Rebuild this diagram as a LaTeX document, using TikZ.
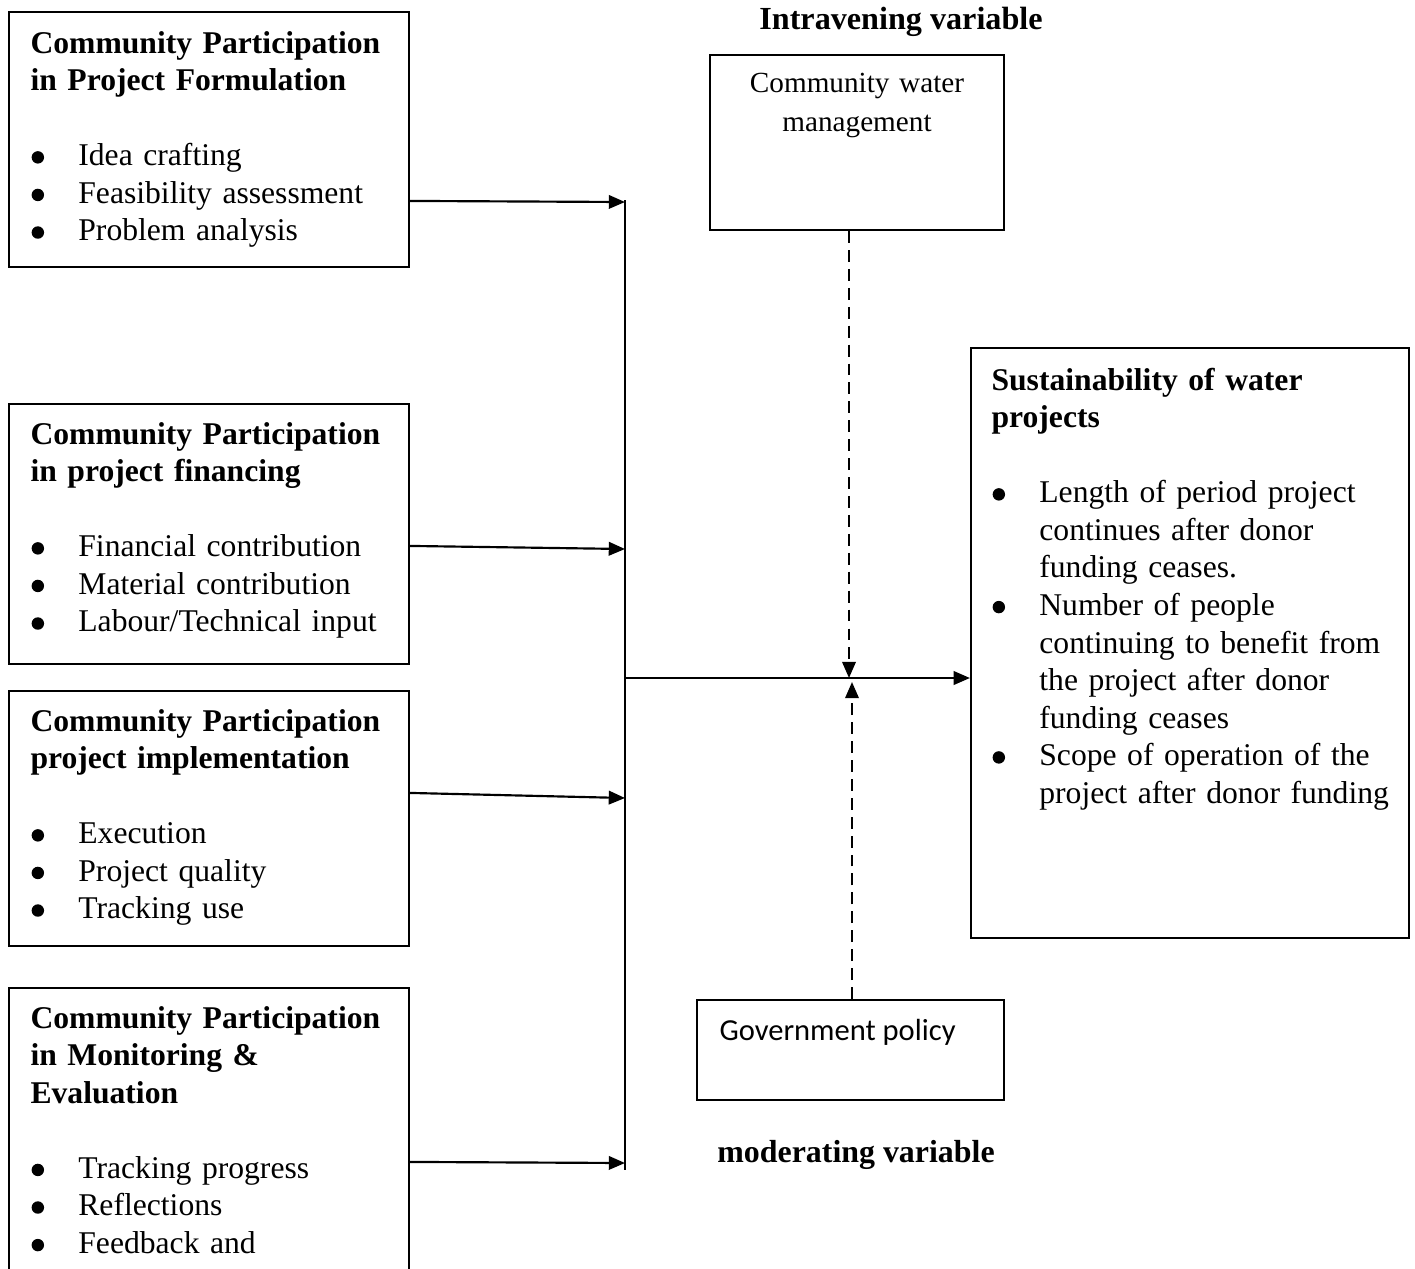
\documentclass[tikz,border=0pt]{standalone}
\usepackage{fontspec}
\setmainfont{Liberation Serif}
\newfontfamily\calibri{Carlito}
\usetikzlibrary{arrows.meta,fit}

\newcommand{\bul}{\makebox[17.7pt][l]{\hspace{0.4pt}\tikz[baseline=0pt]\fill (0,3.1pt) circle (2.3pt);}}
\newcommand{\ind}{\makebox[17.7pt]{}}

\begin{document}
\begin{tikzpicture}[x=0.013cm, y=-0.013cm,
    box/.style={draw, line width=0.8pt, inner sep=0pt},
    txt/.style={anchor=base west, inner sep=0pt, text width=7cm, align=left,
                font=\fontsize{11.7}{13.9}\selectfont},
    arr/.style={line width=0.8pt, -{Triangle[length=6pt,width=5pt]}},
    dsh/.style={arr, dash pattern=on 4.4pt off 2.6pt}]
\useasboundingbox (0,0) rectangle (1415,1268);
\clip (0,0) rectangle (1415,1268);
%%   boxes
    \node[box, fit={(9,12) (409,267)}] (b1) {};
    \node[box, fit={(9,404) (409,664)}] (b2) {};
    \node[box, fit={(9,691) (409,946)}] (b3) {};
    \node[box, fit={(9,988) (409,1300)}] (b4) {};
    \node[box, fit={(710,55) (1004,230)}] (cwm) {};
    \node[box, fit={(697,1000) (1004,1100)}] (gov) {};
    \node[box, fit={(971,348) (1409,938)}] (sust) {};
%%   texts
    \node[txt] (t1) at (30,53) {\textbf{Community Participation}\\
        \textbf{in Project Formulation}\\[\baselineskip]
        \bul Idea crafting\\ \bul Feasibility assessment\\ \bul Problem analysis};
    \node[txt] (t2) at (30,444) {\textbf{Community Participation}\\
        \textbf{in project financing}\\[\baselineskip]
        \bul Financial contribution\\ \bul Material contribution\\ \bul Labour/Technical input};
    \node[txt] (t3) at (30,731) {\textbf{Community Participation}\\
        \textbf{project implementation}\\[\baselineskip]
        \bul Execution\\ \bul Project quality\\ \bul Tracking use};
    \node[txt] (t4) at (30,1028) {\textbf{Community Participation}\\
        \textbf{in Monitoring \&}\\ \textbf{Evaluation}\\[\baselineskip]
        \bul Tracking progress\\ \bul Reflections\\ \bul Feedback and};
    \node[txt] (t7) at (991,390) {\textbf{Sustainability of water}\\
        \textbf{projects}\\[\baselineskip]
        \bul Length of period project\\ \ind continues after donor\\ \ind funding ceases.\\
        \bul Number of people\\ \ind continuing to benefit from\\ \ind the project after donor\\
        \ind funding ceases\\
        \bul Scope of operation of the\\ \ind project after donor funding};
    \node[anchor=base, inner sep=0pt, text width=5cm, align=center,
          font=\fontsize{10.8}{14.7}\selectfont] (t5) at (857,92) {Community water\\management};
    \node[anchor=base west, inner sep=0pt, font=\calibri\fontsize{11.3}{14}\selectfont] (t6)
          at (719,1040) {Government policy};
    \node[anchor=base, inner sep=0pt, font=\bfseries\fontsize{11.9}{14}\selectfont] (lbl1)
          at (901,29) {Intravening variable};
    \node[anchor=base, inner sep=0pt, font=\bfseries\fontsize{11.8}{14}\selectfont] (lbl2)
          at (856,1162) {moderating variable};
%%   connectors
    \coordinate (bt) at (625,200);
    \coordinate (bb) at (625,1170);
    \coordinate (j1) at (625,202);
    \coordinate (j2) at (625,549);
    \coordinate (j3) at (625,798);
    \coordinate (j4) at (625,1163);
    \coordinate (jm) at (625,678);
    \coordinate (mu) at (849,678);
    \coordinate (md) at (852,682);
    \draw[line width=0.8pt] (bt) -- (bb);
    \draw[arr] (b1.north east) ++(0,190) -- (j1);
    \draw[arr] (b2.north east) ++(0,143) -- (j2);
    \draw[arr] (b3.north east) ++(0,103) -- (j3);
    \draw[arr] (b4.north east) ++(0,175) -- (j4);
    \draw[arr] (jm) -- (sust.west |- jm);
    \draw[dsh] (cwm.south -| mu) -- (mu);
    \draw[dsh] (gov.north -| md) -- (md);
\end{tikzpicture}
\end{document}
